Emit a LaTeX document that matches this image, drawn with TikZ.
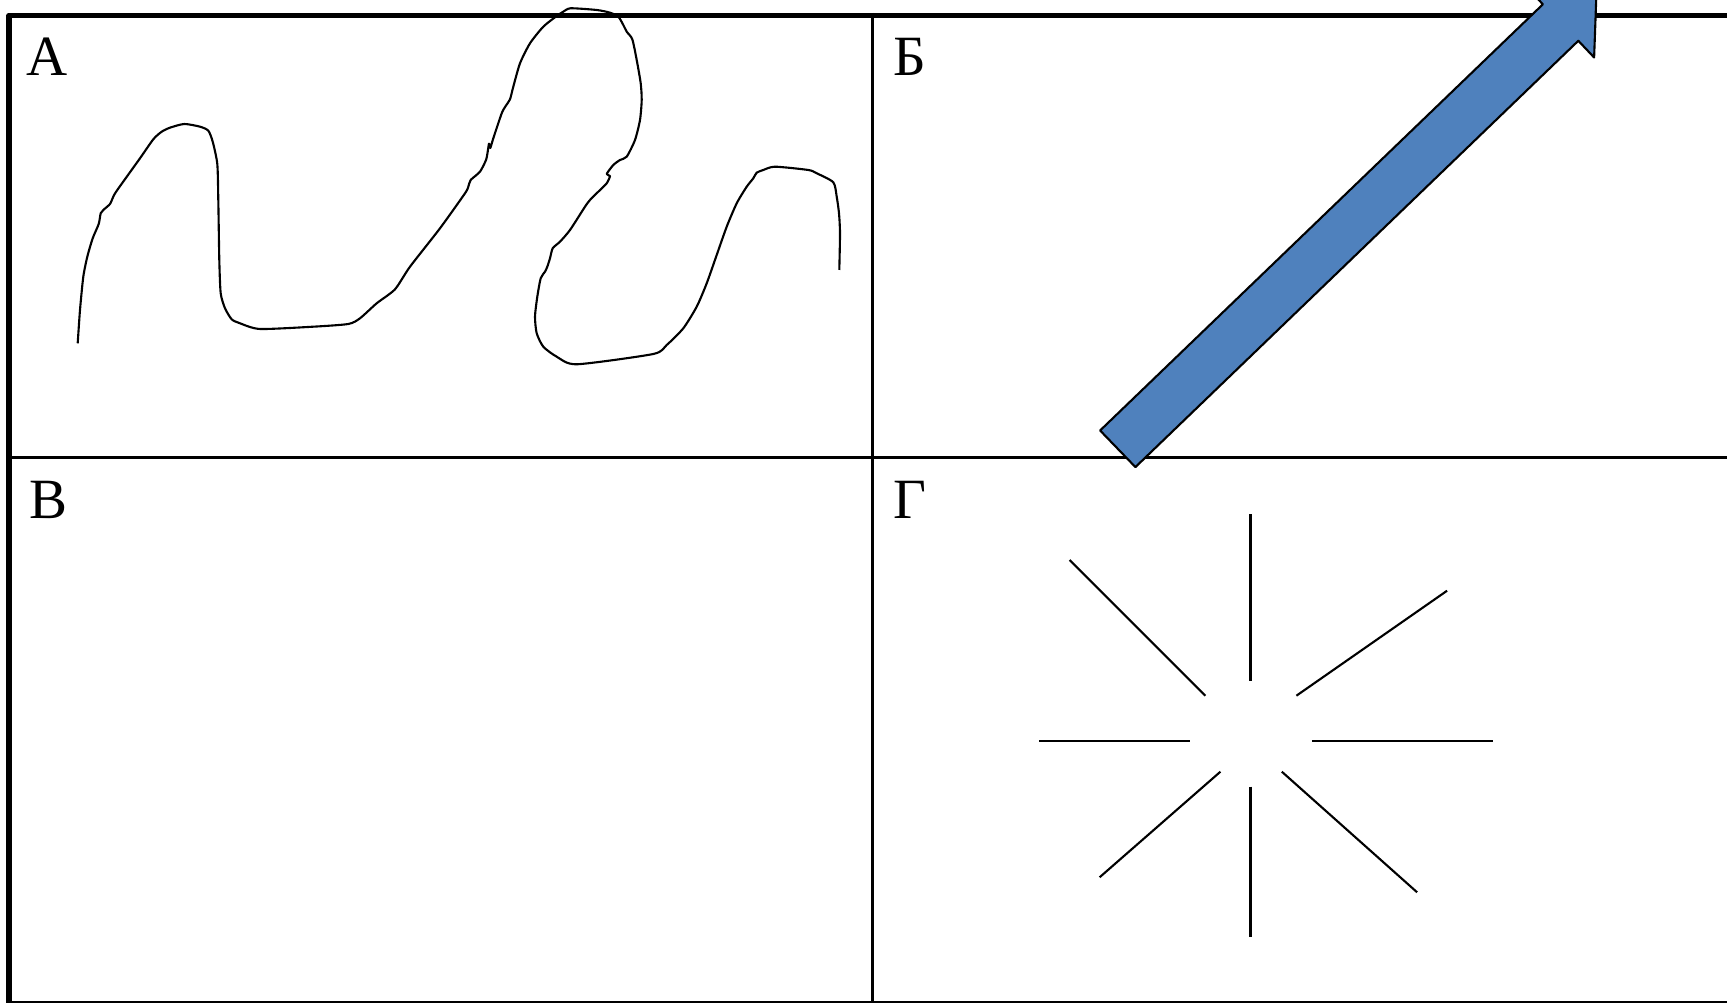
\documentclass[tikz,border=0pt]{standalone}
\usepackage{fontspec}
\setmainfont{Liberation Serif}
\usepackage{tikz}
\usepackage{xcolor}
\definecolor{arrowblue}{HTML}{4F81BD}

\begin{document}
\begin{tikzpicture}[yscale=-1,line join=round,
  frame/.style={line width=1.6pt},
  rule/.style={line width=0.7pt},
  stroke/.style={line width=0.6pt},
  letter/.style={anchor=base west,inner sep=0pt,font=\fontsize{16.2}{18}\selectfont}]
\useasboundingbox (0,0) rectangle (17.27,10.03);
\clip (0,0) rectangle (17.27,10.03);
% table
\draw[rule] (0.092,4.575) -- (17.27,4.575);
\draw[rule] (8.725,0.13) -- (8.725,10.03);
\draw[rule] (0.092,10.02) -- (17.27,10.02);
\draw[frame] (0.092,10.03) -- (0.092,0.155) -- (17.27,0.155);
% panel A: scribble
\draw[stroke] plot[smooth,tension=0.4] coordinates {
  (0.777,3.433) (0.800,3.100) (0.833,2.767) (0.873,2.567) (0.927,2.383)
  (0.987,2.240) (1.007,2.133) (1.033,2.100) (1.100,2.040) (1.133,1.967)
  (1.173,1.900) (1.400,1.583) (1.533,1.393) (1.617,1.317) (1.700,1.277)
  (1.843,1.240) (2.000,1.267) (2.083,1.307) (2.127,1.417) (2.173,1.640)
  (2.183,2.000) (2.193,2.600) (2.207,2.933) (2.250,3.083) (2.317,3.193)
  (2.400,3.233) (2.600,3.290) (3.133,3.267) (3.483,3.240) (3.600,3.183)
  (3.767,3.033) (3.950,2.893) (4.100,2.667) (4.400,2.283) (4.650,1.933)
  (4.683,1.867) (4.707,1.800) (4.800,1.717) (4.860,1.600) (4.877,1.517)
  (4.890,1.437) (4.903,1.480) (4.933,1.383) (5.017,1.133) (5.057,1.060)
  (5.100,0.993) (5.133,0.867) (5.200,0.633) (5.300,0.433) (5.433,0.267)
  (5.567,0.160) (5.633,0.117) (5.707,0.083) (5.967,0.100) (6.100,0.127)
  (6.183,0.167) (6.233,0.250) (6.267,0.317) (6.323,0.393) (6.367,0.600)
  (6.407,0.833) (6.417,1.000) (6.400,1.200) (6.350,1.400) (6.267,1.567)
  (6.200,1.600) (6.133,1.650) (6.067,1.740) (6.100,1.760) (6.067,1.833)
  (5.983,1.917) (5.900,2.000) (5.850,2.067) (5.700,2.300) (5.600,2.417)
  (5.527,2.483) (5.500,2.583) (5.473,2.667) (5.450,2.717) (5.407,2.783)
  (5.373,2.967) (5.350,3.167) (5.367,3.333) (5.433,3.467) (5.567,3.567)
  (5.767,3.643) (6.533,3.540) (6.667,3.450) (6.833,3.283) (6.967,3.067)
  (7.067,2.833) (7.167,2.550) (7.267,2.267) (7.367,2.033) (7.467,1.867)
  (7.533,1.783) (7.567,1.727) (7.633,1.700) (7.750,1.667) (8.083,1.700)
  (8.167,1.733) (8.333,1.823) (8.367,1.967) (8.390,2.133) (8.400,2.333)
  (8.393,2.700)};
% panel B: block arrow
\draw[stroke,fill=arrowblue] (11.001,4.305) -- (15.429,0.043) -- (15.270,-0.123)
  -- (15.966,-0.121) -- (15.941,0.575) -- (15.783,0.408) -- (11.354,4.671) -- cycle;
% panel D: rays
\draw[stroke] (12.505,5.143) -- (12.505,6.807);
\draw[stroke] (10.696,5.600) -- (12.054,6.957);
\draw[stroke] (12.964,6.957) -- (14.471,5.907);
\draw[stroke] (10.393,7.413) -- (11.904,7.413);
\draw[stroke] (13.118,7.413) -- (14.929,7.413);
\draw[stroke] (12.204,7.717) -- (10.996,8.773);
\draw[stroke] (12.505,7.867) -- (12.505,9.373);
\draw[stroke] (12.818,7.717) -- (14.171,8.923);
% labels
\node[letter] (lblA) at (0.26,0.76) {А};
\node[letter] (lblB) at (8.93,0.76) {Б};
\node[letter] (lblV) at (0.29,5.19) {В};
\node[letter] (lblG) at (8.93,5.19) {Г};
\end{tikzpicture}
\end{document}
